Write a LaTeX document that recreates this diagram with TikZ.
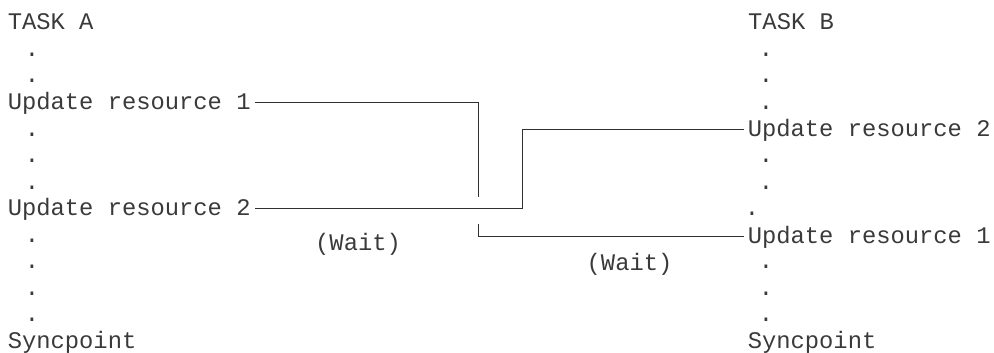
\documentclass[tikz,border=0pt]{standalone}
\usepackage{fontspec}
\newfontfamily\monofnt{Liberation Mono}
\definecolor{txt}{HTML}{3A3A3A}
\definecolor{ln}{HTML}{303030}
\begin{document}
\begin{tikzpicture}[x=1pt,y=-1pt,
  lbl/.style={font=\monofnt\fontsize{23.8}{28}\selectfont, text=txt, inner ysep=0pt, inner xsep=4pt,
              text height=14pt, text depth=0pt, anchor=base west},
  dotn/.style={font=\monofnt\fontsize{23.8}{28}\selectfont, text=txt, inner sep=0pt, anchor=base},
  conn/.style={draw=ln, line width=1pt}]
\useasboundingbox (0,0) rectangle (994,353);
% Task A column
\node[lbl] (ta) at (3.6,30) {TASK A};
\node[dotn] (la1) at (32,56.5) {.};
\node[dotn] (la2) at (32,83) {.};
\node[lbl] (a1) at (3.6,109.5) {Update resource 1};
\node[dotn] (la4) at (32,136) {.};
\node[dotn] (la5) at (32,162.5) {.};
\node[dotn] (la6) at (32,189) {.};
\node[lbl] (a2) at (3.6,215.5) {Update resource 2};
\node[dotn] (la8) at (32,242) {.};
\node[dotn] (la9) at (32,268.5) {.};
\node[dotn] (la10) at (32,295) {.};
\node[dotn] (la11) at (32,321.5) {.};
\node[lbl] (sa) at (3.6,348) {Syncpoint};
% Task B column
\node[lbl] (tb) at (744,30) {TASK B};
\node[dotn] (lb1) at (766,56.5) {.};
\node[dotn] (lb2) at (766,83) {.};
\node[dotn] (lb3) at (766,109.5) {.};
\node[lbl] (b2) at (743.6,136) {Update resource 2};
\node[dotn] (lb5) at (766,162.5) {.};
\node[dotn] (lb6) at (766,189) {.};
\node[dotn] (lb7) at (752,215.5) {.};
\node[lbl] (b1) at (743.6,243) {Update resource 1};
\node[dotn] (lb9) at (766,268.5) {.};
\node[dotn] (lb10) at (766,295) {.};
\node[dotn] (lb11) at (766,321.5) {.};
\node[lbl] (sb) at (743.6,348) {Syncpoint};
% Wait labels
\node[lbl] (w1) at (311,250) {(Wait)};
\node[lbl] (w2) at (582.5,270) {(Wait)};
% connectors
\coordinate (e1) at (478.5,197);
\coordinate (s3) at (478.5,224);
\coordinate (k) at (522,170);
\draw[conn] (a1.east) -| (e1);
\draw[conn] (a2.east) -- (a2.east -| k) -- (k |- b2.west) -- (b2.west);
\draw[conn] (s3) |- (b1.west);
\end{tikzpicture}
\end{document}
